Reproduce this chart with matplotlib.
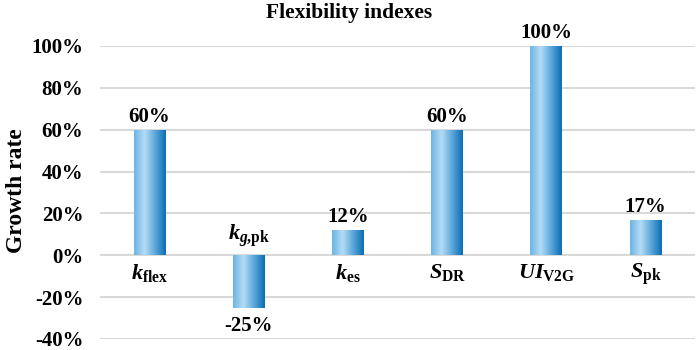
import numpy as np
import matplotlib
import matplotlib.pyplot as plt
from matplotlib.colors import LinearSegmentedColormap

plt.rcParams['font.family'] = 'Liberation Serif'
plt.rcParams['font.weight'] = 'bold'
plt.rcParams['mathtext.fontset'] = 'custom'
plt.rcParams['mathtext.rm'] = 'Liberation Serif:bold'
plt.rcParams['mathtext.it'] = 'Liberation Serif:italic:bold'
plt.rcParams['mathtext.bf'] = 'Liberation Serif:bold'

# data
labels = [r'$\mathit{k}_{\mathrm{flex}}$', r'$\mathit{k}_{\mathit{g}{,}\mathrm{pk}}$',
          r'$\mathit{k}_{\mathrm{es}}$', r'$\mathit{S}_{\mathrm{DR}}$',
          r'$\mathit{UI}_{\mathrm{V2G}}$', r'$\mathit{S}_{\mathrm{pk}}$']
values = [60, -25, 12, 60, 100, 17]
value_text = ['60%', '-25%', '12%', '60%', '100%', '17%']

fig = plt.figure(figsize=(6.99, 3.5), dpi=100)
ax = fig.add_axes([100/699, 11/350, 595/699, 293/350])

x = np.arange(len(values))
width = 0.32
bars = ax.bar(x, values, width=width, color='none', edgecolor='none', zorder=3)

cmap = LinearSegmentedColormap.from_list('barblue', ['#6cb4e4', '#b4dcf4', '#5aa6da', '#0a6db3'])
grad = np.linspace(0, 1, 256).reshape(1, -1)
for b in bars:
    x0, y0 = b.get_x(), b.get_y()
    w, h = b.get_width(), b.get_height()
    im = ax.imshow(grad, cmap=cmap, aspect='auto', extent=[x0, x0 + w, y0, y0 + h],
                   zorder=3, interpolation='bicubic')
    im.set_clip_path(b)

ax.set_xlim(-0.5, 5.5)
ax.set_ylim(-40, 100)
ax.set_yticks(np.arange(-40, 101, 20))
ax.set_yticklabels([f'{t}%' for t in range(-40, 101, 20)], fontsize=15, fontweight='bold')
ax.set_xticks([])
ax.tick_params(axis='y', length=0, pad=12)
ax.yaxis.grid(True, color='#d9d9d9', linewidth=1.5, zorder=0)
ax.set_axisbelow(True)
for s in ax.spines.values():
    s.set_visible(False)

for xi, v, t, lab in zip(x, values, value_text, labels):
    if v >= 0:
        ax.text(xi, v + 1.5, t, ha='center', va='bottom', fontsize=15, fontweight='bold')
        ax.text(xi, -3, lab, ha='center', va='top', fontsize=16)
    else:
        ax.text(xi, v - 4, t, ha='center', va='top', fontsize=15, fontweight='bold')
        ax.text(xi, 3, lab, ha='center', va='bottom', fontsize=16)

fig.text(0.5, 0.963, 'Flexibility indexes', ha='center', va='center', fontsize=15.5, fontweight='bold')
fig.text(0.024, 0.454, 'Growth rate', ha='center', va='center', rotation=90, fontsize=17, fontweight='bold')

plt.savefig('out.png', dpi=100)
